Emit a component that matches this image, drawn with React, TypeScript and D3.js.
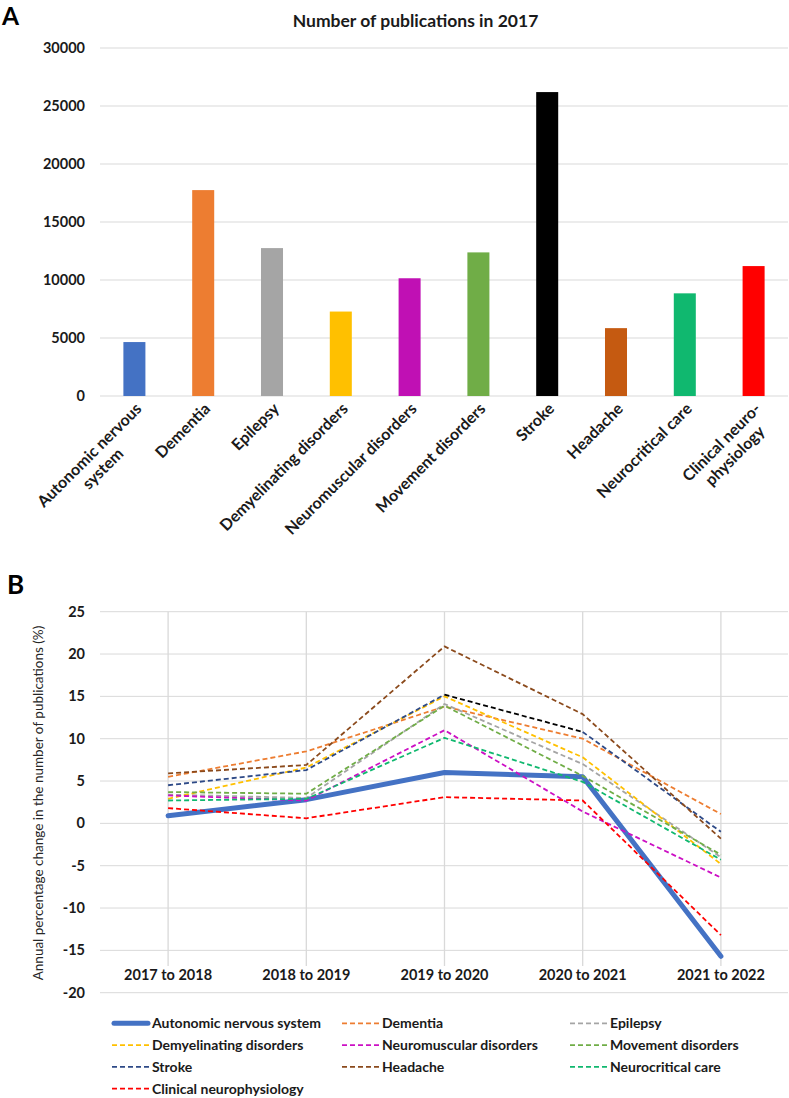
import React, { useEffect, useRef } from 'react';
import * as d3 from 'd3';

// ---------- Panel A data ----------
const categories = [
  'Autonomic nervous system',
  'Dementia',
  'Epilepsy',
  'Demyelinating disorders',
  'Neuromuscular disorders',
  'Movement disorders',
  'Stroke',
  'Headache',
  'Neurocritical care',
  'Clinical neurophysiology',
];
const categoryLabelLines = [
  ['Autonomic nervous', 'system'],
  ['Dementia'],
  ['Epilepsy'],
  ['Demyelinating disorders'],
  ['Neuromuscular disorders'],
  ['Movement disorders'],
  ['Stroke'],
  ['Headache'],
  ['Neurocritical care'],
  ['Clinical neuro-', 'physiology'],
];
const publications2017 = [4650, 17750, 12750, 7280, 10150, 12380, 26200, 5850, 8850, 11200];
const publicationTicks = [0, 5000, 10000, 15000, 20000, 25000, 30000];

// ---------- Panel B data ----------
const periods = ['2017 to 2018', '2018 to 2019', '2019 to 2020', '2020 to 2021', '2021 to 2022'];
const autonomicChange = [0.9, 2.8, 6.0, 5.5, -15.7];
const dementiaChange = [5.5, 8.5, 13.8, 10.0, 1.1];
const epilepsyChange = [3.4, 3.0, 14.1, 7.0, -4.0];
const demyelinatingChange = [2.9, 6.6, 15.0, 7.8, -4.8];
const neuromuscularChange = [3.3, 2.7, 11.0, 1.4, -6.4];
const movementChange = [3.7, 3.5, 13.9, 5.6, -3.7];
const strokeChange = [4.5, 6.3, 15.2, 10.8, -1.0];
const headacheChange = [5.9, 6.9, 20.9, 12.9, -1.8];
const neurocriticalChange = [2.7, 2.9, 10.1, 4.9, -4.3];
const clinicalChange = [1.8, 0.6, 3.1, 2.7, -13.2];
const changeTicks = [-20, -15, -10, -5, 0, 5, 10, 15, 20, 25];

const seriesNames = [
  'Autonomic nervous system',
  'Dementia',
  'Epilepsy',
  'Demyelinating disorders',
  'Neuromuscular disorders',
  'Movement disorders',
  'Stroke',
  'Headache',
  'Neurocritical care',
  'Clinical neurophysiology',
];
const seriesValues = [
  autonomicChange,
  dementiaChange,
  epilepsyChange,
  demyelinatingChange,
  neuromuscularChange,
  movementChange,
  strokeChange,
  headacheChange,
  neurocriticalChange,
  clinicalChange,
];

// ---------- Styles ----------
const barColors = ['#4472C4', '#ED7D31', '#A5A5A5', '#FFC000', '#C010B4', '#70AD47', '#000000', '#C55A11', '#10B86F', '#FF0000'];
const lineColors = ['#4472C4', '#ED7D31', '#A5A5A5', '#FFC000', '#CC10C4', '#70AD47', '#2E4A87', '#8B4A1C', '#10B86F', '#FF0000'];
const FONT = 'Lato, "Open Sans", "Noto Sans", sans-serif';
const TEXT = '#1a1a1a';
const GRID = '#D9D9D9';

export default function App() {
  const ref = useRef<SVGSVGElement | null>(null);

  useEffect(() => {
    const svg = d3.select(ref.current);
    svg.selectAll('*').remove();

    // ================= Panel A =================
    const xA = d3.scaleBand<string>().domain(categories).range([100, 788]).paddingInner(0.68).paddingOuter(0.34);
    const yA = d3.scaleLinear().domain([0, 30000]).range([396, 48]);

    svg.append('text').text('A').attr('x', 2).attr('y', 24.5)
      .attr('font-family', FONT).attr('font-weight', 700).attr('font-size', 24.5).attr('fill', '#000');

    svg.append('text').text('Number of publications in 2017')
      .attr('x', 415.5).attr('y', 26.5).attr('text-anchor', 'middle')
      .attr('font-family', FONT).attr('font-weight', 700).attr('font-size', 17.5).attr('fill', TEXT);

    const gA = svg.append('g');
    gA.selectAll('line.grid').data(publicationTicks).enter().append('line')
      .attr('x1', 100).attr('x2', 788)
      .attr('y1', (d) => yA(d)).attr('y2', (d) => yA(d))
      .attr('stroke', GRID).attr('stroke-width', 1);

    gA.selectAll('text.tick').data(publicationTicks).enter().append('text')
      .text((d) => String(d))
      .attr('x', 85).attr('y', (d) => yA(d)).attr('dy', '0.35em')
      .attr('text-anchor', 'end')
      .attr('font-family', FONT).attr('font-weight', 700).attr('font-size', 14.5).attr('fill', TEXT);

    gA.selectAll('rect.bar').data(publications2017).enter().append('rect')
      .attr('x', (_d, i) => xA(categories[i]) as number)
      .attr('width', xA.bandwidth())
      .attr('y', (d) => yA(d))
      .attr('height', (d) => yA(0) - yA(d))
      .attr('fill', (_d, i) => barColors[i]);

    categories.forEach((c, i) => {
      const cx = (xA(c) as number) + xA.bandwidth() / 2;
      const g = gA.append('g').attr('transform', `translate(${cx},${yA(0)}) rotate(-45)`);
      const lines = categoryLabelLines[i];
      const t1 = g.append('text').text(lines[0])
        .attr('x', -4).attr('y', 15.5).attr('text-anchor', 'end')
        .attr('font-family', FONT).attr('font-weight', 700).attr('font-size', 16).attr('fill', TEXT);
      if (lines.length > 1) {
        const w1 = (t1.node() as SVGTextElement).getComputedTextLength();
        g.append('text').text(lines[1])
          .attr('x', -4 - w1 / 2).attr('y', 15.5 + 19).attr('text-anchor', 'middle')
          .attr('font-family', FONT).attr('font-weight', 700).attr('font-size', 16).attr('fill', TEXT);
      }
    });

    // ================= Panel B =================
    const xB = d3.scalePoint<string>().domain(periods).range([99, 790]).padding(0.5);
    const yB = d3.scaleLinear().domain([-20, 25]).range([992.7, 611.7]);

    svg.append('text').text('B').attr('x', 7).attr('y', 593.5)
      .attr('font-family', FONT).attr('font-weight', 700).attr('font-size', 26).attr('fill', '#000');

    const gB = svg.append('g');
    gB.selectAll('line.hgrid').data(changeTicks).enter().append('line')
      .attr('x1', 100).attr('x2', 788)
      .attr('y1', (d) => yB(d)).attr('y2', (d) => yB(d))
      .attr('stroke', GRID).attr('stroke-width', 1);

    gB.selectAll('line.vgrid').data(periods).enter().append('line')
      .attr('x1', (d) => xB(d) as number).attr('x2', (d) => xB(d) as number)
      .attr('y1', yB(25)).attr('y2', 966)
      .attr('stroke', GRID).attr('stroke-width', 1.3);

    gB.selectAll('text.ytick').data(changeTicks).enter().append('text')
      .text((d) => String(d))
      .attr('x', 85).attr('y', (d) => yB(d)).attr('dy', '0.35em')
      .attr('text-anchor', 'end')
      .attr('font-family', FONT).attr('font-weight', 700).attr('font-size', 14.5).attr('fill', TEXT);

    gB.selectAll('text.xtick').data(periods).enter().append('text')
      .text((d) => d)
      .attr('x', (d) => xB(d) as number).attr('y', 975).attr('dy', '0.35em')
      .attr('text-anchor', 'middle')
      .attr('font-family', FONT).attr('font-weight', 700).attr('font-size', 14.5).attr('fill', TEXT);

    gB.append('text').text('Annual percentage change in the number of publications (%)')
      .attr('transform', 'translate(38,803) rotate(-90)')
      .attr('text-anchor', 'middle').attr('dy', '0.35em')
      .attr('font-family', FONT).attr('font-size', 13.5).attr('fill', '#262626');

    const line = d3.line<number>()
      .x((_d, i) => xB(periods[i]) as number)
      .y((d) => yB(d));

    seriesValues.forEach((vals, si) => {
      const isMain = si === 0;
      if (seriesNames[si] === 'Stroke') {
        // stroke line: middle segment rendered black as in the reference
        const segs: [number, number, string][] = [[0, 2, lineColors[si]], [2, 3, '#000000'], [3, 4, lineColors[si]]];
        segs.forEach(([a, b, col]) => {
          const pts = vals.slice(a, b + 1);
          const l = d3.line<number>()
            .x((_d, i) => xB(periods[a + i]) as number)
            .y((d) => yB(d));
          gB.append('path').attr('d', l(pts) as string)
            .attr('fill', 'none').attr('stroke', col).attr('stroke-width', 1.8)
            .attr('stroke-dasharray', '5,3');
        });
        return;
      }
      gB.append('path').attr('d', line(vals) as string)
        .attr('fill', 'none')
        .attr('stroke', lineColors[si])
        .attr('stroke-width', isMain ? 5 : 1.8)
        .attr('stroke-linecap', isMain ? 'round' : 'butt')
        .attr('stroke-linejoin', 'round')
        .attr('stroke-dasharray', isMain ? null : '5,3');
    });

    // Legend
    const legendX = [112, 342, 570];
    seriesNames.forEach((name, i) => {
      const col = i % 3;
      const row = Math.floor(i / 3);
      const x0 = legendX[col];
      const y0 = 1023.3 + row * 21.8;
      const isMain = i === 0;
      gB.append('line')
        .attr('x1', isMain ? x0 + 2 : x0).attr('x2', isMain ? x0 + 36 : x0 + 38)
        .attr('y1', y0).attr('y2', y0)
        .attr('stroke', lineColors[i])
        .attr('stroke-width', isMain ? 5 : 1.8)
        .attr('stroke-linecap', isMain ? 'round' : 'butt')
        .attr('stroke-dasharray', isMain ? null : '5,3');
      gB.append('text').text(name)
        .attr('x', x0 + 40).attr('y', y0).attr('dy', '0.35em')
        .attr('font-family', FONT).attr('font-weight', 700).attr('font-size', 14).attr('fill', TEXT);
    });
  }, []);

  return (
    <svg
      ref={ref}
      width={789}
      height={1098}
      style={{ position: 'absolute', left: 0, top: 0, background: '#fff' }}
    />
  );
}
